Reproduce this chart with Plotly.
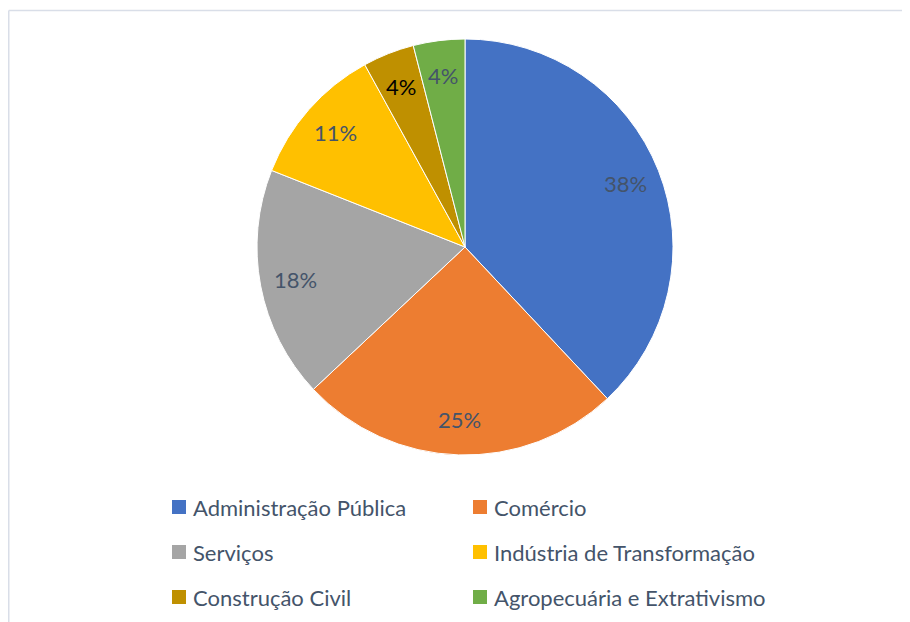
import math
import plotly.graph_objects as go

# ---- data ----
labels = ["Administração Pública", "Comércio", "Serviços",
          "Indústria de Transformação", "Construção Civil",
          "Agropecuária e Extrativismo"]
values = [38, 25, 18, 11, 4, 4]
pct_text = ["38%", "25%", "18%", "11%", "4%", "4%"]

colors = ["#4472C4", "#ED7D31", "#A5A5A5", "#FFC000", "#BF9000", "#70AD47"]
label_colors = ["#44546A", "#44546A", "#44546A", "#44546A", "#000000", "#44546A"]

W, H = 910, 622
OFF = 8          # page body offset of the plot div
FONT = "Lato"
TXT = "#44546A"

# pie geometry (pixels, in page coordinates)
cx, cy, R = 465 - OFF, 247 - OFF, 208


def px(x):
    return x / W


def py(y):
    return (H - y) / H


fig = go.Figure()
fig.add_trace(go.Pie(
    labels=labels,
    values=values,
    textinfo="none",
    marker=dict(colors=colors, line=dict(color="white", width=1)),
    sort=False,
    direction="clockwise",
    rotation=0,
    showlegend=False,
    hoverinfo="label+percent",
    domain=dict(x=[px(cx - R), px(cx + R)],
                y=[py(cy + R), py(cy - R)]),
))

shapes = []
annotations = []

# data labels placed along each slice's mid-angle
total = sum(values)
cum = 0
for v, t, c in zip(values, pct_text, label_colors):
    mid = (cum + v / 2) / total * 2 * math.pi
    cum += v
    rl = 0.83 * R
    annotations.append(dict(xref="paper", yref="paper",
                            x=px(cx + rl * math.sin(mid)),
                            y=py(cy - rl * math.cos(mid)),
                            xanchor="center", yanchor="middle",
                            text=t, showarrow=False,
                            font=dict(family=FONT, size=22, color=c)))

# manual legend (2 columns x 3 rows)
col_x = [172 - OFF, 473 - OFF]
row_y = [507 - OFF, 552 - OFF, 597 - OFF]
sq = 14
for i, (lab, col) in enumerate(zip(labels, colors)):
    x0 = col_x[i % 2]
    y = row_y[i // 2]
    shapes.append(dict(type="rect", xref="paper", yref="paper",
                       x0=px(x0), x1=px(x0 + sq),
                       y0=py(y + sq / 2), y1=py(y - sq / 2),
                       fillcolor=col, line=dict(width=0)))
    annotations.append(dict(xref="paper", yref="paper",
                            x=px(x0 + sq + 5), y=py(y),
                            xanchor="left", yanchor="middle",
                            text=lab, showarrow=False,
                            font=dict(family=FONT, size=22, color=TXT)))

# chart frame (top and left edges)
shapes.append(dict(type="line", xref="paper", yref="paper",
                   x0=px(0.75), x1=1.0, y0=py(2.5), y1=py(2.5),
                   line=dict(color="#D9DEE8", width=1.5)))
shapes.append(dict(type="line", xref="paper", yref="paper",
                   x0=px(0.75), x1=px(0.75), y0=0, y1=py(2.5),
                   line=dict(color="#D9DEE8", width=1.5)))

fig.update_layout(
    width=W, height=H,
    margin=dict(l=0, r=0, t=0, b=0),
    paper_bgcolor="white",
    plot_bgcolor="white",
    shapes=shapes,
    annotations=annotations,
    font=dict(family=FONT, color=TXT),
)

fig.write_html("out.html")
